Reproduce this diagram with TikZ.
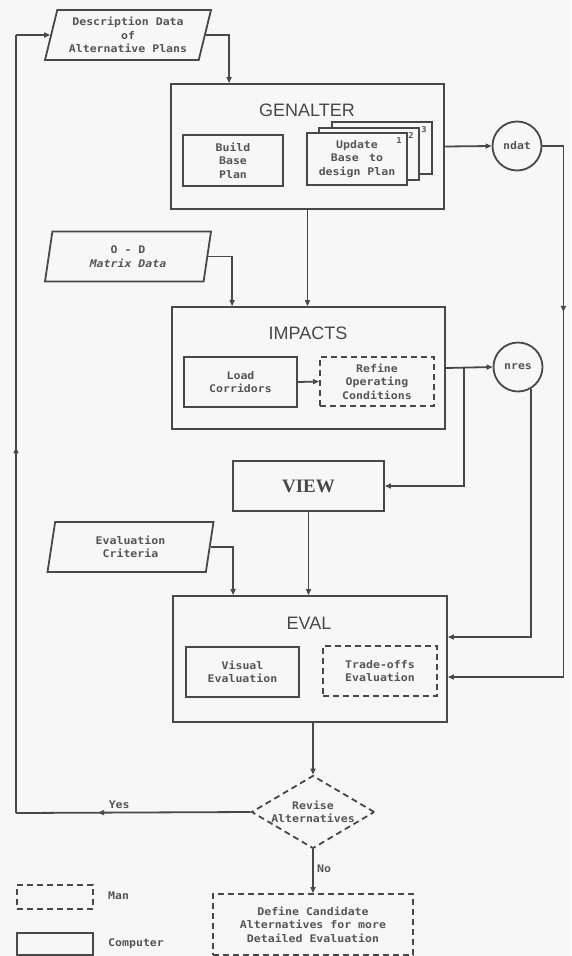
\documentclass[tikz,border=0pt]{standalone}
\usepackage{fontspec}
\setsansfont{Liberation Sans}
\setmonofont{DejaVu Sans Mono}[FakeStretch=1.1]
\newfontfamily\viewfont{Liberation Serif}
\usetikzlibrary{
	arrows.meta, shapes.geometric, positioning, calc, decorations.markings
}
\definecolor{plotline}      {RGB}{ 72,  72,  72}
\definecolor{plottext}      {RGB}{ 85,  85,  85}
\definecolor{plotpaper}     {RGB}{247, 247, 247}

\begin{document}
\begin{tikzpicture}[x=1pt, y=-1pt, color=plotline, line width=1.8pt,
		box/.style={draw, rectangle, inner sep=0pt, align=center},
		manbox/.style={box, dash pattern=on 6pt off 4pt},
		small/.style={font=\ttfamily\bfseries\fontsize{10.5}{13.5}\selectfont, text=plottext, align=center},
		title/.style={font=\sffamily\fontsize{18}{20}\selectfont},
		datain/.style={draw, trapezium, trapezium left angle=71, trapezium right angle=109,
			trapezium stretches body=true, minimum width=166pt, minimum height=50pt, inner sep=0pt, small},
		store/.style={draw, circle, minimum size=49pt, inner sep=0pt, small},
		arr/.style={-{Triangle[open, length=6pt, width=5pt]}},
		midarr/.style={postaction={decorate, decoration={markings,
			mark=at position #1 with {\arrow{Triangle[open, length=6pt, width=5pt]}}}}}]
	\fill[plotpaper] (0,0) rectangle (571,956);
	\useasboundingbox (0,0) rectangle (571,956);

	\node[datain] (desc) at (128,35) {Description Data\\of\\Alternative Plans};
	\node[box, minimum width=273pt, minimum height=125pt] (genalter) at (307.5,146.5) {};
	\node[title] (genaltertitle) at (307,110) {GENALTER};
	\node[box, small, minimum width=100pt, minimum height=51pt] (build) at (233,160.5) {Build\\Base\\Plan};
	\foreach \k/\ux/\uy in {3/382/148,2/369/154,1/357/159}{
		\node[box, fill=plotpaper, minimum width=100pt, minimum height=52pt] (upd\k) at (\ux,\uy) {};
		\node[small, font=\ttfamily\bfseries\fontsize{8}{9}\selectfont, anchor=north east] (updnum\k)
			at ([xshift=-2pt,yshift=-1pt]upd\k.north east) {\k};
	}
	\node[small] (updtext) at (upd1) {Update\\Base\quad to\\design Plan};
	\node[store] (ndat) at (517,146) {ndat};

	\node[datain] (od) at (128,256.5) {O - D\\\itshape Matrix Data};
	\node[box, minimum width=273pt, minimum height=122pt] (impacts) at (308.5,368) {};
	\node[title] (impactstitle) at (308,333) {IMPACTS};
	\node[box, small, minimum width=113pt, minimum height=50pt] (load) at (240.5,382) {Load\\Corridors};
	\node[manbox, small, minimum width=114pt, minimum height=49pt] (refine) at (377,381.5) {Refine\\Operating\\Conditions};
	\node[store] (nres) at (518,367) {nres};

	\node[box, minimum width=151pt, minimum height=50pt, font=\viewfont\bfseries\fontsize{19}{20}\selectfont] (view) at (308.5,486) {VIEW};

	\node[datain] (crit) at (130.5,547) {Evaluation\\Criteria};
	\node[box, minimum width=274pt, minimum height=126pt] (eval) at (310,659) {};
	\node[title] (evaltitle) at (309,623) {EVAL};
	\node[box, small, minimum width=113pt, minimum height=50pt] (visual) at (242.5,672) {Visual\\Evaluation};
	\node[manbox, small, minimum width=114pt, minimum height=50pt] (trade) at (380,671) {Trade-offs\\Evaluation};

	\node[manbox, diamond, aspect=1.68, inner sep=0pt, small, minimum width=123pt, minimum height=73pt] (revise) at (313,812) {Revise\\Alternatives};
	\node[manbox, small, minimum width=200pt, minimum height=61pt] (define) at (313,924.5) {Define Candidate\\Alternatives for more\\Detailed Evaluation};

	\node[manbox, minimum width=76pt, minimum height=24pt] (keyman) at (55,897) {};
	\node[small, anchor=west] (keymantext) at (104,896) {Man};
	\node[box, minimum width=76pt, minimum height=22pt] (keycomp) at (55,944) {};
	\node[small, anchor=west] (keycomptext) at (104,944) {Computer};

	\coordinate (yescorner) at (16,813);
	\coordinate (topcorner) at (16,35);

	\draw[arr] (desc.east) -| ([xshift=59pt]genalter.north west);
	\draw[arr] (od.east) -| ([xshift=61pt]impacts.north west);
	\draw[arr] (crit.east) -| ([xshift=61pt]eval.north west);
	\draw[arr] (genalter.east) -- (ndat.west);
	\draw[arr] (genalter.south) -- (genalter.south |- impacts.north);
	\draw[arr] (impacts.east) -- (nres.west);
	\draw[arr] (load.east) -- (refine.west);
	\draw[arr] ([xshift=18pt]impacts.east) |- (view.east);
	\draw[arr] (view.south) -- (view.south |- eval.north);
	\draw[arr] (nres.-60) |- ([yshift=22pt]eval.east);
	\draw[arr, midarr=0.28] (ndat.east) -- ++(21pt,0) |- ([yshift=-18pt]eval.east);
	\draw[arr] (eval.south -| revise.north) -- (revise.north);
	\draw[arr] (revise.south) -- node[small, right, pos=0.45] (notext) {No} (define.north);
	\draw[midarr=0.65] (revise.west) -- node[small, above, pos=0.56] (yestext) {Yes} (yescorner);
	\draw[midarr=0.47] (yescorner) -- (topcorner);
	\draw[arr] (topcorner) -- (desc.west);
\end{tikzpicture}
\end{document}
